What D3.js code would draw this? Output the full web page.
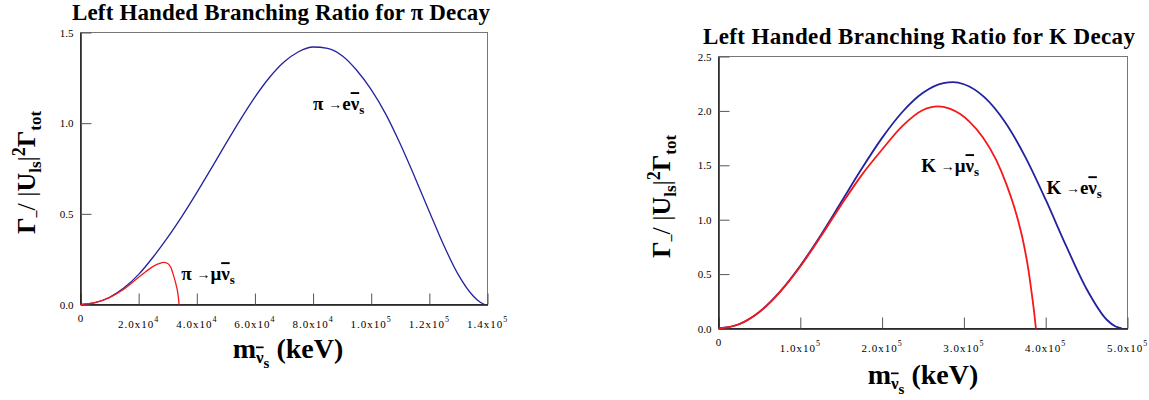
<!DOCTYPE html>
<html lang="en">
  <head>
    <meta charset="UTF-8" />
    <title>Left Handed Branching Ratio</title>
    <script src="https://d3js.org/d3.v7.min.js"></script>
    <style>
      body { margin: 0; background: white; }
      svg text { font-family: "Liberation Serif", "Times New Roman", serif; fill: black; }
    </style>
  </head>
  <body>
    <div id="svg-container"></div>
    <script>
      // pi decay, sterile mass in keV
      const piEMass = [0, 5000, 10000, 15000, 20000, 25000, 30000, 35000, 40000, 45000, 50000, 55000, 60000, 65000, 70000, 75000, 80000, 85000, 90000, 95000, 100000, 105000, 110000, 115000, 120000, 125000, 130000, 135000, 137500, 139000];
      const piERatio = [0, 0.010, 0.040, 0.092, 0.166, 0.262, 0.370, 0.489, 0.617, 0.751, 0.887, 1.020, 1.144, 1.252, 1.337, 1.394, 1.420, 1.412, 1.372, 1.292, 1.185, 1.050, 0.885, 0.702, 0.512, 0.325, 0.163, 0.048, 0.012, 0];
      const piMuMass = [0, 5000, 10000, 15000, 20000, 22500, 25000, 27500, 28500, 30000, 31000, 32000, 32500, 33000, 33400, 33700, 33900];
      const piMuRatio = [0, 0.010, 0.038, 0.085, 0.150, 0.182, 0.210, 0.228, 0.232, 0.226, 0.207, 0.160, 0.133, 0.100, 0.070, 0.035, 0];

      // K decay
      const kEMass = [0, 25000, 50000, 75000, 100000, 125000, 150000, 175000, 200000, 225000, 250000, 275000, 287000, 300000, 325000, 350000, 375000, 400000, 425000, 450000, 475000, 485000, 493000];
      const kERatio = [0, 0.039, 0.153, 0.337, 0.577, 0.858, 1.162, 1.468, 1.752, 1.992, 2.166, 2.255, 2.264, 2.245, 2.126, 1.900, 1.578, 1.184, 0.759, 0.363, 0.078, 0.020, 0];
      const kMuMass = [0, 25000, 50000, 75000, 100000, 125000, 150000, 175000, 200000, 225000, 250000, 268000, 282500, 295000, 307000, 323300, 339600, 351900, 364100, 372300, 378400, 382500, 386600, 388000];
      const kMuRatio = [0, 0.039, 0.152, 0.334, 0.570, 0.845, 1.135, 1.410, 1.645, 1.862, 2.008, 2.041, 2.021, 1.973, 1.900, 1.756, 1.548, 1.327, 1.051, 0.806, 0.561, 0.346, 0.101, 0];

      // tick labels
      const piXTicks = [0, 20000, 40000, 60000, 80000, 100000, 120000, 140000];
      const piXMant = ["0", "2.0x10", "4.0x10", "6.0x10", "8.0x10", "1.0x10", "1.2x10", "1.4x10"];
      const piXExp = ["", "4", "4", "4", "4", "5", "5", "5"];
      const piYTicks = [0, 0.5, 1.0, 1.5];
      const kXTicks = [0, 100000, 200000, 300000, 400000, 500000];
      const kXMant = ["0", "1.0x10", "2.0x10", "3.0x10", "4.0x10", "5.0x10"];
      const kXExp = ["", "5", "5", "5", "5", "5"];
      const kYTicks = [0, 0.5, 1.0, 1.5, 2.0, 2.5];

      const blue = "#22229e";
      const red = "#f51818";

      const svg = d3
        .select("#svg-container")
        .append("svg")
        .attr("width", 1149)
        .attr("height", 400);

      function drawPanel(p) {
        const x = d3.scaleLinear().domain(p.xDomain).range([p.left, p.right]);
        const y = d3.scaleLinear().domain(p.yDomain).range([p.bottom, p.top]);

        // frame
        svg
          .append("rect")
          .attr("x", p.left)
          .attr("y", p.top)
          .attr("width", p.right - p.left)
          .attr("height", p.bottom - p.top)
          .attr("fill", "none")
          .attr("stroke", "#777")
          .attr("stroke-width", 1);

        // minor + major ticks, pointing inwards
        const gx = svg.append("g").attr("transform", `translate(0,${p.bottom})`);
        gx.call(d3.axisBottom(x).tickValues(d3.range(0, p.xDomain[1] + 1, p.xMinor)).tickSize(-6).tickSizeOuter(0).tickFormat(""));
        gx.call(d3.axisBottom(x).tickValues(p.xTicks).tickSize(-11).tickSizeOuter(0).tickFormat(""));
        gx.selectAll(".tick line").attr("stroke", "#555");
        gx.select(".domain").attr("stroke", "#111").attr("stroke-width", 1.4);

        const gy = svg.append("g").attr("transform", `translate(${p.left},0)`);
        gy.call(d3.axisLeft(y).tickValues(d3.range(0, p.yDomain[1] + 0.01, 0.25)).tickSize(-6).tickSizeOuter(0).tickFormat(""));
        gy.call(d3.axisLeft(y).tickValues(p.yTicks).tickSize(-11).tickSizeOuter(0).tickPadding(7).tickFormat(d3.format(".1f")));
        gy.selectAll(".tick line").attr("stroke", "#555");
        gy.select(".domain").attr("stroke", "#111").attr("stroke-width", 1.4);
        gy.selectAll(".tick text")
          .attr("font-family", "Liberation Serif")
          .attr("font-size", 11)
          .attr("fill", "#222");

        // x tick labels with exponent
        p.xTicks.forEach(function (v, i) {
          const t = svg
            .append("text")
            .attr("x", x(v))
            .attr("y", p.bottom + (i == 0 ? 17 : 23))
            .attr("text-anchor", "middle")
            .attr("font-size", 11)
            .attr("letter-spacing", i == 0 ? 0 : 1)
            .attr("fill", "#222");
          t.append("tspan").text(p.xMant[i]);
          if (p.xExp[i]) {
            t.append("tspan").attr("dy", -6).attr("font-size", 8).text(p.xExp[i]);
          }
        });

        // curves
        const line = d3
          .line()
          .curve(d3.curveMonotoneX)
          .x((d) => x(d[0]))
          .y((d) => y(d[1]));
        p.series.forEach(function (s) {
          svg
            .append("path")
            .datum(d3.zip(s.mass, s.ratio))
            .attr("fill", "none")
            .attr("stroke", s.color)
            .attr("stroke-width", p.lineWidth)
            .attr("d", line);
        });

        // curve labels
        p.labels.forEach(function (l) {
          const t = svg
            .append("text")
            .attr("x", x(l.at[0]))
            .attr("y", y(l.at[1]))
            .attr("font-size", 19)
            .attr("font-weight", "bold");
          t.append("tspan").text(l.parent + " ");
          t.append("tspan").attr("font-size", 14).attr("font-weight", "normal").attr("dy", -1).text("\u2192");
          t.append("tspan").attr("dy", 1).text(l.lepton);
          t.append("tspan").style("text-decoration", "overline").text("\u03bd");
          t.append("tspan").attr("font-size", 13).attr("dy", 4).text("s");
        });

        // title
        svg
          .append("text")
          .attr("x", p.titleX)
          .attr("y", p.titleY)
          .attr("text-anchor", "middle")
          .attr("font-size", 23)
          .attr("font-weight", "bold")
          .attr("textLength", p.titleWidth)
          .attr("lengthAdjust", "spacing")
          .text(p.title);

        // x axis title
        const xt = svg
          .append("text")
          .attr("x", (p.left + p.right) / 2 + p.xTitleShift)
          .attr("y", p.bottom + p.xTitleGap)
          .attr("text-anchor", "middle")
          .attr("font-size", 28)
          .attr("font-weight", "bold");
        xt.append("tspan").text("m");
        xt.append("tspan").attr("font-size", 17).attr("dy", 5).style("text-decoration", "overline").text("\u03bd");
        xt.append("tspan").attr("font-size", 15).attr("dy", 5).text("s");
        xt.append("tspan").attr("dy", -10).text(" (keV)");

        // y axis title
        const cy = (p.top + p.bottom) / 2 + 4;
        const yt = svg
          .append("text")
          .attr("transform", `translate(${p.left - p.yTitleGap},${cy}) rotate(-90)`)
          .attr("text-anchor", "middle")
          .attr("font-size", 26)
          .attr("font-weight", "bold");
        yt.append("tspan").text("\u0393");
        yt.append("tspan").attr("font-size", 14).attr("dy", 5).text("\u2013");
        yt.append("tspan").attr("font-weight", "normal").attr("dy", -5).text("/ |");
        yt.append("tspan").text("U");
        yt.append("tspan").attr("font-size", 17).attr("dy", 6).text("ls");
        yt.append("tspan").attr("font-weight", "normal").attr("dy", -6).text("|");
        yt.append("tspan").attr("font-size", 18).attr("dy", -10).text("2");
        yt.append("tspan").attr("dy", 10).text("\u0393");
        yt.append("tspan").attr("font-size", 17).attr("dy", 6).text("tot");
      }

      drawPanel({
        left: 80.5,
        right: 487.5,
        top: 32.5,
        bottom: 304.5,
        xDomain: [0, 140000],
        yDomain: [0, 1.5],
        xMinor: 10000,
        xTicks: piXTicks,
        xMant: piXMant,
        xExp: piXExp,
        yTicks: piYTicks,
        lineWidth: 1.3,
        series: [
          { mass: piEMass, ratio: piERatio, color: blue },
          { mass: piMuMass, ratio: piMuRatio, color: red },
        ],
        labels: [
          { at: [80000, 1.072], parent: "\u03c0", lepton: "e" },
          { at: [34640, 0.134], parent: "\u03c0", lepton: "\u03bc" },
        ],
        title: "Left Handed Branching Ratio for \u03c0 Decay",
        titleX: 281,
        titleY: 20,
        titleWidth: 418,
        xTitleShift: 4,
        xTitleGap: 53,
        yTitleGap: 46,
      });

      drawPanel({
        left: 718.5,
        right: 1127.5,
        top: 56.5,
        bottom: 328.5,
        xDomain: [0, 500000],
        yDomain: [0, 2.5],
        xMinor: 25000,
        xTicks: kXTicks,
        xMant: kXMant,
        xExp: kXExp,
        yTicks: kYTicks,
        lineWidth: 1.8,
        series: [
          { mass: kEMass, ratio: kERatio, color: blue },
          { mass: kMuMass, ratio: kMuRatio, color: red },
        ],
        labels: [
          { at: [247860, 1.437], parent: "K", lepton: "\u03bc" },
          { at: [400860, 1.234], parent: "K", lepton: "e" },
        ],
        title: "Left Handed Branching Ratio for K Decay",
        titleX: 919,
        titleY: 44,
        titleWidth: 432,
        xTitleShift: 0,
        xTitleGap: 55,
        yTitleGap: 49,
      });
    </script>
  </body>
</html>
